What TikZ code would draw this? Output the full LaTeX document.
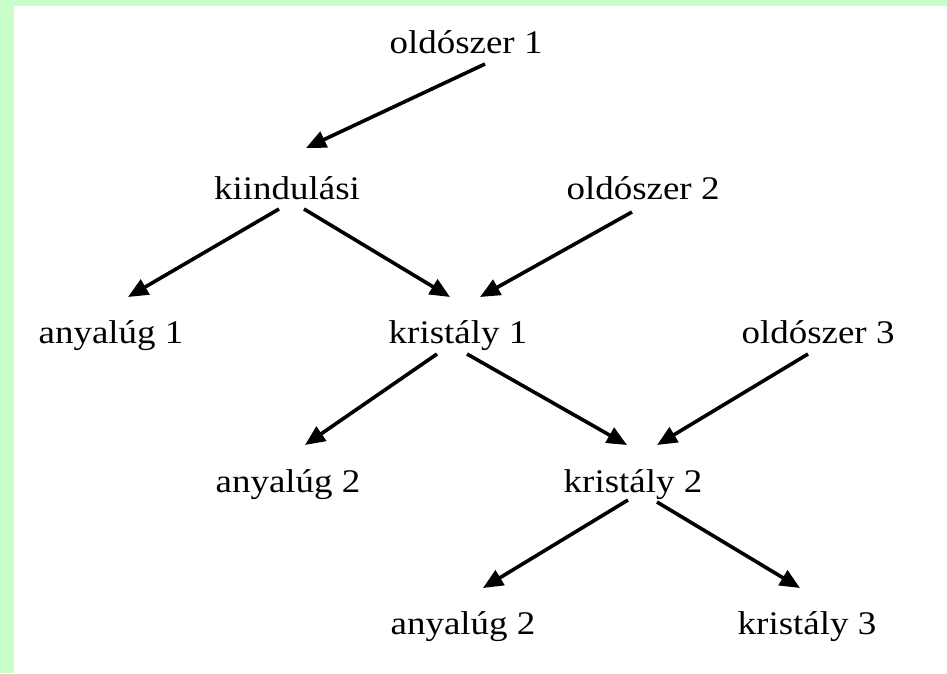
\documentclass[tikz,border=0pt]{standalone}
\usepackage{fontspec}
\setmainfont{Liberation Serif}[FakeStretch=1.12]
\usetikzlibrary{arrows.meta}
\definecolor{bggreen}{HTML}{C8FFC8}

\begin{document}
\begin{tikzpicture}[x=1pt, y=-1pt,
	lbl/.style = {anchor=base, inner sep=0pt, font=\fontsize{33}{40}\selectfont},
	arr/.style = {-{Triangle[length=20pt, width=17pt]}, line width=3.6pt}]
	\useasboundingbox (0,0) rectangle (947,673);
	\fill [bggreen] (0,0) rectangle (947,673);
	\fill [white] (14,6) rectangle (947,673);
	\node [lbl] (old1) at (466,53) {oldószer 1};
	\node [lbl] (kiind) at (287,199) {kiindulási};
	\node [lbl] (old2) at (643,199) {oldószer 2};
	\node [lbl] (any1) at (111,343) {anyalúg 1};
	\node [lbl] (krist1) at (458,343) {kristály 1};
	\node [lbl] (old3) at (818,343) {oldószer 3};
	\node [lbl] (any2) at (288,492) {anyalúg 2};
	\node [lbl] (krist2) at (633,492) {kristály 2};
	\node [lbl] (any3) at (463,634) {anyalúg 2};
	\node [lbl] (krist3) at (807,634) {kristály 3};
	\draw [arr] ([shift={(19,11)}]old1.base) -- ([shift={(19,-51)}]kiind.base);
	\draw [arr] ([shift={(-8,10)}]kiind.base) -- ([shift={(17,-46)}]any1.base);
	\draw [arr] ([shift={(17,10)}]kiind.base) -- ([shift={(-8,-46)}]krist1.base);
	\draw [arr] ([shift={(-11,13)}]old2.base) -- ([shift={(22,-46)}]krist1.base);
	\draw [arr] ([shift={(-21,11)}]krist1.base) -- ([shift={(17,-47)}]any2.base);
	\draw [arr] ([shift={(9,11)}]krist1.base) -- ([shift={(-6,-47)}]krist2.base);
	\draw [arr] ([shift={(-10,11)}]old3.base) -- ([shift={(24,-47)}]krist2.base);
	\draw [arr] ([shift={(-5,8)}]krist2.base) -- ([shift={(20,-46)}]any3.base);
	\draw [arr] ([shift={(24,10)}]krist2.base) -- ([shift={(-7,-46)}]krist3.base);
\end{tikzpicture}
\end{document}
